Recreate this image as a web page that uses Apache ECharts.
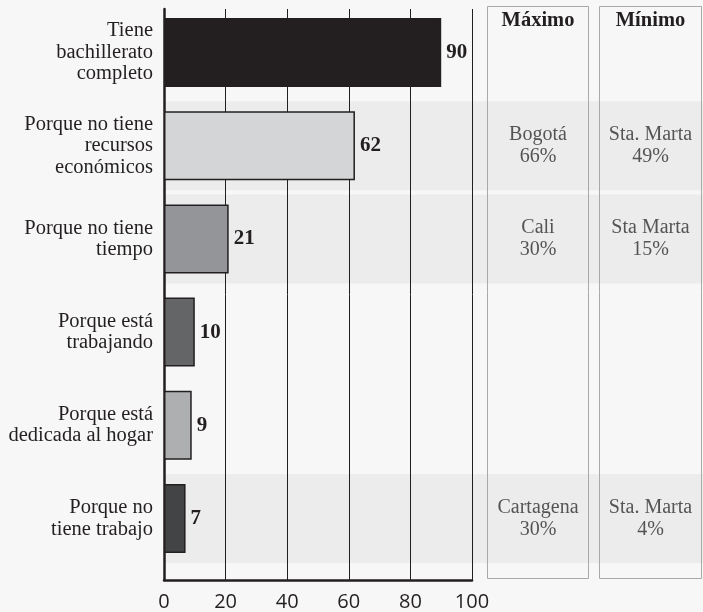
<!DOCTYPE html>
<html>
<head>
<meta charset="utf-8">
<script src="https://cdn.jsdelivr.net/npm/echarts@6/dist/echarts.min.js"></script>
<style>
  html, body { margin: 0; padding: 0; background: #f7f7f7; }
  #chart { width: 703px; height: 612px; }
</style>
</head>
<body>
<div id="chart"></div>
<script>
// data
const categories = [
  "Tiene\nbachillerato\ncompleto",
  "Porque no tiene\nrecursos\neconómicos",
  "Porque no tiene\ntiempo",
  "Porque está\ntrabajando",
  "Porque está\ndedicada al hogar",
  "Porque no\ntiene trabajo"
];
const values = [90, 62, 21, 10, 9, 7];
const barColors = ["#231f20", "#d4d5d7", "#939598", "#646567", "#aeafb1", "#434446"];
const shadedRows = [0, 1, 1, 0, 0, 1];
const maxCity = ["", "Bogotá", "Cali", "", "", "Cartagena"];
const maxPct = [null, 66, 30, null, null, 30];
const minCity = ["", "Sta. Marta", "Sta Marta", "", "", "Sta. Marta"];
const minPct = [null, 49, 15, null, null, 4];
const xTicks = [0, 20, 40, 60, 80, 100];

const ink = "#231f20";
const serif = "'Liberation Serif', 'DejaVu Serif', serif";

const chart = echarts.init(document.getElementById("chart"));

//table cells for one column
function cellData(city, pct) {
  return city.map((c, i) => (c ? { value: [0.5, i], txt: c + "\n" + pct[i] + "%" } : null))
    .filter((d) => d);
}

function catAxis(gridIndex, showLabels) {
  return {
    type: "category",
    gridIndex: gridIndex,
    inverse: true,
    data: categories,
    axisLine: { show: false },
    axisTick: { show: false },
    axisLabel: showLabels
      ? { fontFamily: serif, fontSize: 20.5, color: ink, lineHeight: 21.5, margin: 11, align: "right" }
      : { show: false },
  };
}

function hiddenValueAxis(gridIndex, max) {
  return {
    type: "value",
    gridIndex: gridIndex,
    min: 0,
    max: max,
    show: false,
  };
}

const cellLabel = {
  show: true,
  position: "inside",
  formatter: (p) => p.data.txt,
  fontFamily: serif,
  fontSize: 20,
  lineHeight: 22,
  color: "#2e2e2e",
};

const option = {
  backgroundColor: "#f7f7f7",
  animation: false,
  grid: [
    { left: 164, width: 308, top: 6, height: 559 }, // bars
    { left: 164, width: 308, top: 9, bottom: 32 }, // frame
    { left: 164, right: -2, top: 6, height: 559 }, // row shading
    { left: 487, width: 102, top: 6, height: 559 }, // máximo
    { left: 599, width: 103, top: 6, height: 559 }, // mínimo
  ],
  xAxis: [
    hiddenValueAxis(0, 100),
    {
      type: "value",
      gridIndex: 1,
      min: xTicks[0],
      max: xTicks[xTicks.length - 1],
      interval: 20,
      axisLine: { show: true, lineStyle: { color: ink, width: 2.5 } },
      axisTick: { show: false },
      splitLine: { show: true, lineStyle: { color: ink, width: 1 } },
      axisLabel: { fontFamily: "'Open Sans', sans-serif", fontSize: 20, color: ink, margin: 12 },
    },
    hiddenValueAxis(2, 1),
    hiddenValueAxis(3, 1),
    hiddenValueAxis(4, 1),
  ],
  yAxis: [
    catAxis(0, true),
    {
      type: "value",
      gridIndex: 1,
      axisLine: { show: true, lineStyle: { color: ink, width: 2.5 } },
      axisTick: { show: false },
      axisLabel: { show: false },
      splitLine: { show: false },
    },
    catAxis(2, false),
    catAxis(3, false),
    catAxis(4, false),
  ],
  series: [
    {
      type: "bar",
      xAxisIndex: 2,
      yAxisIndex: 2,
      z: -5,
      silent: true,
      barCategoryGap: "4.5%",
      itemStyle: { color: "#ececec" },
      data: shadedRows,
    },
    {
      type: "bar",
      xAxisIndex: 0,
      yAxisIndex: 0,
      barWidth: 69,
      data: values.map((v, i) => ({
        value: v,
        itemStyle: { color: barColors[i] },
      })),
      itemStyle: { borderColor: ink, borderWidth: 1.5 },
      label: {
        show: true,
        position: "right",
        distance: 5,
        fontFamily: serif,
        fontWeight: "bold",
        fontSize: 21,
        color: ink,
      },
    },
    {
      type: "scatter",
      xAxisIndex: 3,
      yAxisIndex: 3,
      symbolSize: 0,
      data: cellData(maxCity, maxPct),
      label: cellLabel,
    },
    {
      type: "scatter",
      xAxisIndex: 4,
      yAxisIndex: 4,
      symbolSize: 0,
      data: cellData(minCity, minPct),
      label: cellLabel,
    },
  ],
  graphic: [
    {
      type: "rect",
      shape: { x: 487.5, y: 6.5, width: 101, height: 572 },
      style: { fill: "none", stroke: "#a9a9a9", lineWidth: 1 },
      z: 10,
    },
    {
      type: "rect",
      shape: { x: 599.5, y: 6.5, width: 102, height: 572 },
      style: { fill: "none", stroke: "#a9a9a9", lineWidth: 1 },
      z: 10,
    },
    {
      type: "text",
      x: 538,
      y: 21,
      style: {
        text: "Máximo",
        font: "bold 20.5px " + serif,
        fill: ink,
        textAlign: "center",
        textVerticalAlign: "middle",
      },
      z: 10,
    },
    {
      type: "text",
      x: 650.5,
      y: 21,
      style: {
        text: "Mínimo",
        font: "bold 20.5px " + serif,
        fill: ink,
        textAlign: "center",
        textVerticalAlign: "middle",
      },
      z: 10,
    },
  ],
};

chart.setOption(option);
</script>
</body>
</html>
